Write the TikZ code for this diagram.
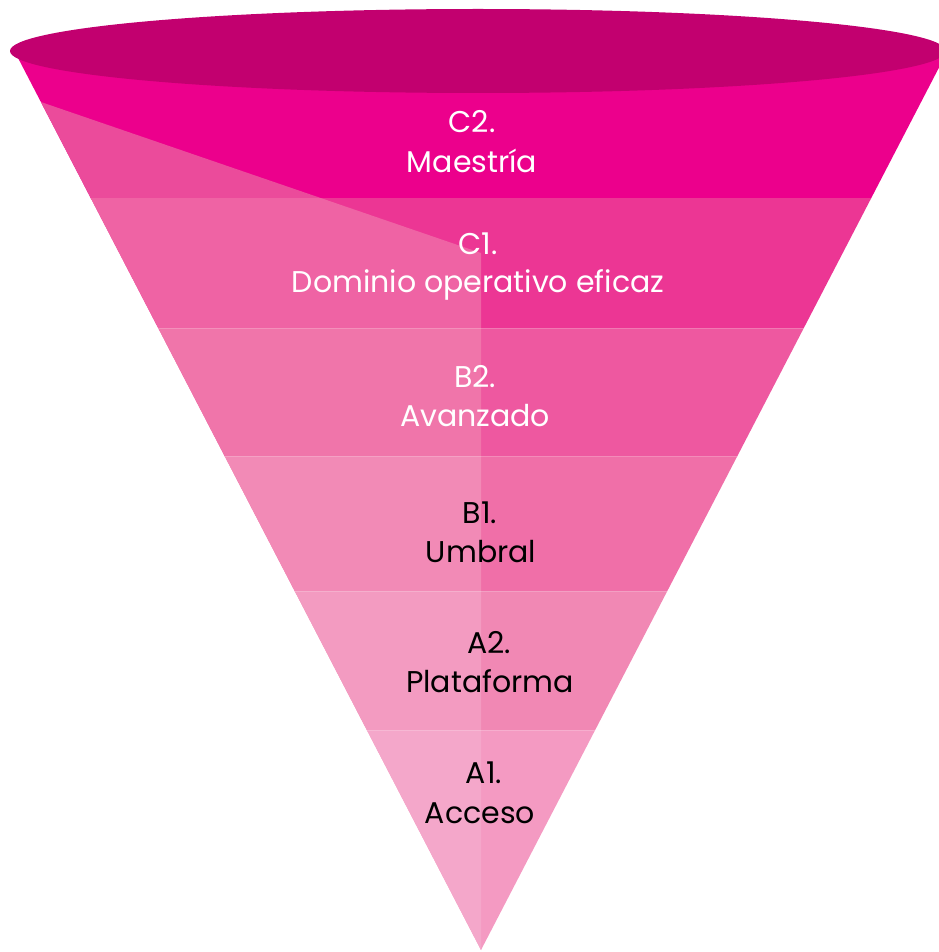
\documentclass[tikz,border=0pt]{standalone}
\usepackage{fontspec}
\setmainfont{Poppins}
\definecolor{rim}{HTML}{C2006F}
\definecolor{c2r}{HTML}{EC008C}
\definecolor{c2l}{HTML}{EB4B9B}
\definecolor{c1r}{HTML}{EC3694}
\definecolor{c1l}{HTML}{EF63A4}
\definecolor{b2r}{HTML}{EE58A0}
\definecolor{b2l}{HTML}{F075AA}
\definecolor{b1r}{HTML}{F06FA8}
\definecolor{b1l}{HTML}{F28AB6}
\definecolor{a2r}{HTML}{F188B4}
\definecolor{a2l}{HTML}{F39BC1}
\definecolor{a1r}{HTML}{F49AC2}
\definecolor{a1l}{HTML}{F4A7CA}
\begin{document}
\begin{tikzpicture}[x=1pt,y=-1pt,
    lvl/.style={anchor=base,font=\fontsize{30}{36}\selectfont},
    light/.style={lvl,text=white},
    dark/.style={lvl,text=black}]
\useasboundingbox (0,0) rectangle (938,952);
% bands, right-hand colour
\foreach \ya/\yb/\c in {52/198/c2r,198/328/c1r,328/456/b2r,456/591/b1r,591/730/a2r,730/950/a1r}
    \fill[\c] ({481-0.519*(950-\ya)},\ya) -- ({481+0.519*(950-\ya)},\ya)
        -- ({481+0.519*(950-\yb)},\yb) -- ({481-0.519*(950-\yb)},\yb) -- cycle;
% left facet, lighter
\begin{scope}
    \clip ({481-0.519*848},102) -- (481,253) -- (481,950) -- cycle;
    \foreach \ya/\yb/\c in {52/198/c2l,198/328/c1l,328/456/b2l,456/591/b1l,591/730/a2l,730/950/a1l}
        \fill[\c] ({481-0.519*(950-\ya)},\ya) -- ({481+0.519*(950-\ya)},\ya)
            -- ({481+0.519*(950-\yb)},\yb) -- ({481-0.519*(950-\yb)},\yb) -- cycle;
\end{scope}
\foreach \y in {328,456,591,730}
    \draw[white,opacity=.2,line width=.8] ({481-0.519*(950-\y)},\y) -- ({481+0.519*(950-\y)},\y);
% rim
\fill[rim] (478,51) ellipse [x radius=468, y radius=42];
% labels
\node[light] (c2) at (472,133) {C2.};
\node[light] (c2t) at (472,173) {Maestría};
\node[light] (c1) at (478,254) {C1.};
\node[light] (c1t) at (478,292) {Dominio operativo eficaz};
\node[light] (b2) at (475,387) {B2.};
\node[light] (b2t) at (475,426) {Avanzado};
\node[dark] (b1) at (480,523) {B1.};
\node[dark] (b1t) at (481,562) {Umbral};
\node[dark] (a2) at (489,653) {A2.};
\node[dark] (a2t) at (490,692) {Plataforma};
\node[dark] (a1) at (484,783) {A1.};
\node[dark] (a1t) at (480,823) {Acceso};
\end{tikzpicture}
\end{document}
